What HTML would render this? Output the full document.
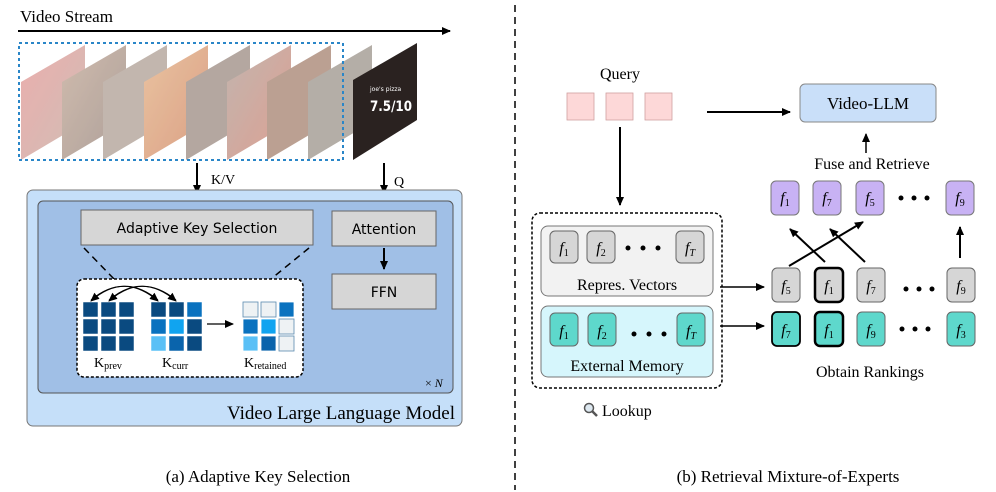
<!DOCTYPE html>
<html><head><meta charset="utf-8"><style>
body{margin:0;background:#fff}
svg{display:block}
.s{font-family:"DejaVu Sans",sans-serif}
.r{font-family:"Liberation Serif","DejaVu Serif",serif}
</style></head><body>
<svg width="996" height="492" viewBox="0 0 996 492" xmlns="http://www.w3.org/2000/svg">
<defs>
<marker id="a" markerWidth="10" markerHeight="10" refX="8" refY="5" orient="auto" markerUnits="userSpaceOnUse"><path d="M0,1 L9,5 L0,9 z" fill="#000"/></marker>
<linearGradient id="g1" x1="0" y1="0" x2="1" y2="1"><stop offset="0" stop-color="#e8a0a0"/><stop offset="1" stop-color="#c9b3a8"/></linearGradient>
<linearGradient id="g2" x1="0" y1="0" x2="1" y2="1"><stop offset="0" stop-color="#c8b0a0"/><stop offset="1" stop-color="#a09088"/></linearGradient>
<linearGradient id="g3" x1="0" y1="0" x2="1" y2="1"><stop offset="0" stop-color="#e6b890"/><stop offset="1" stop-color="#d49070"/></linearGradient>
<linearGradient id="g4" x1="0" y1="0" x2="1" y2="1"><stop offset="0" stop-color="#b8a8a0"/><stop offset="1" stop-color="#d89080"/></linearGradient>
</defs>

<text x="20" y="22" class="r" font-size="17">Video Stream</text>
<line x1="18" y1="31" x2="450" y2="31" stroke="#000" stroke-width="2" marker-end="url(#a)"/>

<g opacity="0.85">
<polygon points="21,82 85,45 85,122 21,160" fill="url(#g1)"/>
<polygon points="62,82 126,45 126,122 62,160" fill="url(#g2)"/>
<polygon points="103,82 167,45 167,122 103,160" fill="#b8aaa0"/>
<polygon points="144,82 208,45 208,122 144,160" fill="url(#g3)"/>
<polygon points="186,82 250,45 250,122 186,160" fill="#a89890"/>
<polygon points="227,82 291,45 291,122 227,160" fill="url(#g4)"/>
<polygon points="267,82 331,45 331,122 267,160" fill="#b09080"/>
<polygon points="308,82 372,45 372,122 308,160" fill="#a8a098"/>
</g>
<polygon points="353,80 417,43 417,120 353,160" fill="#2a2220"/>
<text x="370" y="111" fill="#fff" font-size="14" font-weight="bold" class="s" textLength="42" lengthAdjust="spacingAndGlyphs">7.5/10</text>
<text x="370" y="91" fill="#fff" font-size="6" class="s">joe's pizza</text>
<rect x="19" y="43" width="324" height="117" fill="none" stroke="#2a86c8" stroke-width="2" stroke-dasharray="3,3"/>

<line x1="197" y1="163" x2="197" y2="193" stroke="#000" stroke-width="2" marker-end="url(#a)"/>
<text x="211" y="184" class="r" font-size="14">K/V</text>
<line x1="384" y1="163" x2="384" y2="193" stroke="#000" stroke-width="2" marker-end="url(#a)"/>
<text x="394" y="186" class="r" font-size="14">Q</text>

<rect x="27" y="190" width="435" height="236" rx="6" fill="#c5dff9" stroke="#777" stroke-width="1"/>
<rect x="38" y="201" width="415" height="192" rx="5" fill="#a0bfe6" stroke="#555" stroke-width="1"/>
<rect x="81" y="210" width="232" height="35" fill="#d6d6d6" stroke="#666"/>
<text x="197" y="233" text-anchor="middle" class="s" font-size="14">Adaptive Key Selection</text>
<rect x="332" y="211" width="104" height="35" fill="#d6d6d6" stroke="#666"/>
<text x="384" y="234" text-anchor="middle" class="s" font-size="14">Attention</text>
<line x1="384" y1="248" x2="384" y2="269" stroke="#000" stroke-width="2" marker-end="url(#a)"/>
<rect x="332" y="274" width="104" height="35" fill="#d6d6d6" stroke="#666"/>
<text x="384" y="297" text-anchor="middle" class="s" font-size="14">FFN</text>

<line x1="84" y1="248" x2="114" y2="279" stroke="#000" stroke-width="1.5" stroke-dasharray="7,5"/>
<line x1="309" y1="248" x2="271" y2="279" stroke="#000" stroke-width="1.5" stroke-dasharray="7,5"/>
<rect x="77" y="279" width="226" height="98" rx="7" fill="#fff" stroke="#000" stroke-width="1.5" stroke-dasharray="3,2"/>

<g stroke="#fff" stroke-width="0.5">
<rect x="83" y="302" width="15" height="15" fill="#0a4a80"/><rect x="101" y="302" width="15" height="15" fill="#0a4a80"/><rect x="119" y="302" width="15" height="15" fill="#0a4a80"/>
<rect x="83" y="319" width="15" height="15" fill="#0a4a80"/><rect x="101" y="319" width="15" height="15" fill="#0a4a80"/><rect x="119" y="319" width="15" height="15" fill="#0a4a80"/>
<rect x="83" y="336" width="15" height="15" fill="#0a4a80"/><rect x="101" y="336" width="15" height="15" fill="#0a4a80"/><rect x="119" y="336" width="15" height="15" fill="#0a4a80"/>
<rect x="151" y="302" width="15" height="15" fill="#0a4a80"/><rect x="169" y="302" width="15" height="15" fill="#0a4a80"/><rect x="187" y="302" width="15" height="15" fill="#0a72bf"/>
<rect x="151" y="319" width="15" height="15" fill="#0a72bf"/><rect x="169" y="319" width="15" height="15" fill="#10a4f0"/><rect x="187" y="319" width="15" height="15" fill="#0a4a80"/>
<rect x="151" y="336" width="15" height="15" fill="#5ac0f6"/><rect x="169" y="336" width="15" height="15" fill="#0a64ac"/><rect x="187" y="336" width="15" height="15" fill="#0a4a80"/>
</g>
<g stroke="#5a8ab0" stroke-width="0.8">
<rect x="243" y="302" width="15" height="15" fill="#eef2f4"/><rect x="261" y="302" width="15" height="15" fill="#eef2f4"/><rect x="279" y="302" width="15" height="15" fill="#0a72bf" stroke="#fff"/>
<rect x="243" y="319" width="15" height="15" fill="#0a72bf" stroke="#fff"/><rect x="261" y="319" width="15" height="15" fill="#10a4f0" stroke="#fff"/><rect x="279" y="319" width="15" height="15" fill="#eef2f4"/>
<rect x="243" y="336" width="15" height="15" fill="#5ac0f6" stroke="#fff"/><rect x="261" y="336" width="15" height="15" fill="#0a64ac" stroke="#fff"/><rect x="279" y="336" width="15" height="15" fill="#eef2f4"/>
</g>
<line x1="207" y1="324" x2="233" y2="324" stroke="#000" stroke-width="1.2" marker-end="url(#a)"/>
<g fill="none" stroke="#000" stroke-width="1">
<path d="M158,300 Q124,272 91,301" marker-end="url(#a)"/>
<path d="M176,300 Q142,272 109,301" marker-end="url(#a)"/>
<path d="M91,300 Q124,272 158,301" marker-end="url(#a)"/>
<path d="M109,300 Q142,272 176,301" marker-end="url(#a)"/>
</g>
<text x="94" y="367" class="r" font-size="14">K<tspan font-size="10" dy="2">prev</tspan></text>
<text x="162" y="367" class="r" font-size="14">K<tspan font-size="10" dy="2">curr</tspan></text>
<text x="244" y="367" class="r" font-size="14">K<tspan font-size="10" dy="2">retained</tspan></text>
<text x="425" y="387" class="r" font-size="12">× <tspan font-style="italic">N</tspan></text>
<text x="455" y="419" text-anchor="end" class="r" font-size="19">Video Large Language Model</text>

<line x1="515" y1="5" x2="515" y2="490" stroke="#000" stroke-width="1.5" stroke-dasharray="7,5"/>
<text x="258" y="482" text-anchor="middle" class="r" font-size="17">(a) Adaptive Key Selection</text>
<text x="788" y="482" text-anchor="middle" class="r" font-size="17">(b) Retrieval Mixture-of-Experts</text>

<text x="620" y="79" text-anchor="middle" class="r" font-size="16">Query</text>
<rect x="567" y="93" width="27" height="27" fill="#fdd8d8" stroke="#d0a0a0" stroke-width="0.8"/>
<rect x="606" y="93" width="27" height="27" fill="#fdd8d8" stroke="#d0a0a0" stroke-width="0.8"/>
<rect x="645" y="93" width="27" height="27" fill="#fdd8d8" stroke="#d0a0a0" stroke-width="0.8"/>
<line x1="707" y1="112" x2="790" y2="112" stroke="#000" stroke-width="2" marker-end="url(#a)"/>
<rect x="800" y="84" width="136" height="38" rx="5" fill="#c9dff9" stroke="#888"/>
<text x="868" y="109" text-anchor="middle" class="r" font-size="17">Video-LLM</text>
<line x1="866" y1="153" x2="866" y2="134" stroke="#000" stroke-width="1.5" marker-end="url(#a)"/>
<text x="872" y="169" text-anchor="middle" class="r" font-size="16">Fuse and Retrieve</text>
<line x1="620" y1="127" x2="620" y2="205" stroke="#000" stroke-width="2" marker-end="url(#a)"/>

<g class="r" font-style="italic" font-size="16" text-anchor="middle">
<g stroke="#777" stroke-width="1">
<rect x="771" y="181" width="28" height="34" rx="5" fill="#c8b2f4"/>
<rect x="813" y="181" width="28" height="34" rx="5" fill="#c8b2f4"/>
<rect x="856" y="181" width="28" height="34" rx="5" fill="#c8b2f4"/>
<rect x="946" y="181" width="28" height="34" rx="5" fill="#c8b2f4"/>
</g>
<text x="785" y="203">f<tspan font-size="10" font-style="normal" dy="3">1</tspan></text>
<text x="827" y="203">f<tspan font-size="10" font-style="normal" dy="3">7</tspan></text>
<text x="870" y="203">f<tspan font-size="10" font-style="normal" dy="3">5</tspan></text>
<text x="960" y="203">f<tspan font-size="10" font-style="normal" dy="3">9</tspan></text>
</g>
<g fill="#000"><circle cx="901" cy="198" r="2.5"/><circle cx="914" cy="198" r="2.5"/><circle cx="927" cy="198" r="2.5"/></g>

<line x1="789" y1="266" x2="863" y2="222" stroke="#000" stroke-width="2" marker-end="url(#a)"/>
<line x1="825" y1="262" x2="790" y2="229" stroke="#000" stroke-width="2" marker-end="url(#a)"/>
<line x1="865" y1="262" x2="830" y2="229" stroke="#000" stroke-width="2" marker-end="url(#a)"/>
<line x1="960" y1="258" x2="960" y2="227" stroke="#000" stroke-width="2" marker-end="url(#a)"/>

<rect x="532" y="213" width="190" height="175" rx="8" fill="none" stroke="#000" stroke-width="1.5" stroke-dasharray="3,2"/>
<rect x="541" y="226" width="172" height="70" rx="7" fill="#f2f2f2" stroke="#777"/>
<rect x="541" y="306" width="172" height="71" rx="7" fill="#d6f6fc" stroke="#777"/>

<g class="r" font-style="italic" font-size="16" text-anchor="middle">
<g stroke="#666" stroke-width="1">
<rect x="550" y="231" width="28" height="32" rx="5" fill="#d6d6d6"/>
<rect x="587" y="231" width="28" height="32" rx="5" fill="#d6d6d6"/>
<rect x="676" y="231" width="28" height="32" rx="5" fill="#d6d6d6"/>
<rect x="550" y="313" width="28" height="33" rx="5" fill="#5ed8cc"/>
<rect x="588" y="313" width="28" height="33" rx="5" fill="#5ed8cc"/>
<rect x="677" y="313" width="28" height="33" rx="5" fill="#5ed8cc"/>
<rect x="772" y="268" width="28" height="34" rx="5" fill="#d6d6d6"/>
<rect x="857" y="268" width="28" height="34" rx="5" fill="#d6d6d6"/>
<rect x="947" y="268" width="28" height="34" rx="5" fill="#d6d6d6"/>
<rect x="857" y="312" width="28" height="34" rx="5" fill="#5ed8cc"/>
<rect x="947" y="312" width="28" height="34" rx="5" fill="#5ed8cc"/>
</g>
<rect x="815" y="268" width="28" height="34" rx="5" fill="#d6d6d6" stroke="#000" stroke-width="2.5"/>
<rect x="772" y="312" width="28" height="34" rx="5" fill="#5ed8cc" stroke="#000" stroke-width="1.8"/>
<rect x="815" y="312" width="28" height="34" rx="5" fill="#5ed8cc" stroke="#000" stroke-width="2.5"/>
<text x="564" y="253">f<tspan font-size="10" font-style="normal" dy="3">1</tspan></text>
<text x="601" y="253">f<tspan font-size="10" font-style="normal" dy="3">2</tspan></text>
<text x="690" y="253">f<tspan font-size="10" dy="3">T</tspan></text>
<text x="564" y="336">f<tspan font-size="10" font-style="normal" dy="3">1</tspan></text>
<text x="602" y="336">f<tspan font-size="10" font-style="normal" dy="3">2</tspan></text>
<text x="691" y="336">f<tspan font-size="10" dy="3">T</tspan></text>
<text x="786" y="291">f<tspan font-size="10" font-style="normal" dy="3">5</tspan></text>
<text x="829" y="291">f<tspan font-size="10" font-style="normal" dy="3">1</tspan></text>
<text x="871" y="291">f<tspan font-size="10" font-style="normal" dy="3">7</tspan></text>
<text x="961" y="291">f<tspan font-size="10" font-style="normal" dy="3">9</tspan></text>
<text x="786" y="335">f<tspan font-size="10" font-style="normal" dy="3">7</tspan></text>
<text x="829" y="335">f<tspan font-size="10" font-style="normal" dy="3">1</tspan></text>
<text x="871" y="335">f<tspan font-size="10" font-style="normal" dy="3">9</tspan></text>
<text x="961" y="335">f<tspan font-size="10" font-style="normal" dy="3">3</tspan></text>
</g>
<g fill="#000">
<circle cx="628" cy="248" r="2.5"/><circle cx="643" cy="248" r="2.5"/><circle cx="658" cy="248" r="2.5"/>
<circle cx="634" cy="334" r="2.5"/><circle cx="649" cy="334" r="2.5"/><circle cx="664" cy="334" r="2.5"/>
<circle cx="906" cy="289" r="2.5"/><circle cx="919" cy="289" r="2.5"/><circle cx="932" cy="289" r="2.5"/>
<circle cx="902" cy="329" r="2.5"/><circle cx="915" cy="329" r="2.5"/><circle cx="928" cy="329" r="2.5"/>
</g>
<text x="627" y="290" text-anchor="middle" class="r" font-size="16">Repres. Vectors</text>
<text x="627" y="371" text-anchor="middle" class="r" font-size="16">External Memory</text>
<line x1="720" y1="287" x2="764" y2="287" stroke="#000" stroke-width="1.5" marker-end="url(#a)"/>
<line x1="720" y1="326" x2="764" y2="326" stroke="#000" stroke-width="1.5" marker-end="url(#a)"/>
<text x="870" y="377" text-anchor="middle" class="r" font-size="16">Obtain Rankings</text>
<circle cx="589" cy="408" r="4.5" fill="#dde8f0" stroke="#555" stroke-width="1.5"/>
<line x1="592" y1="411" x2="597" y2="416" stroke="#555" stroke-width="2.5"/>
<text x="602" y="416" class="r" font-size="16">Lookup</text>
</svg>
</body></html>
